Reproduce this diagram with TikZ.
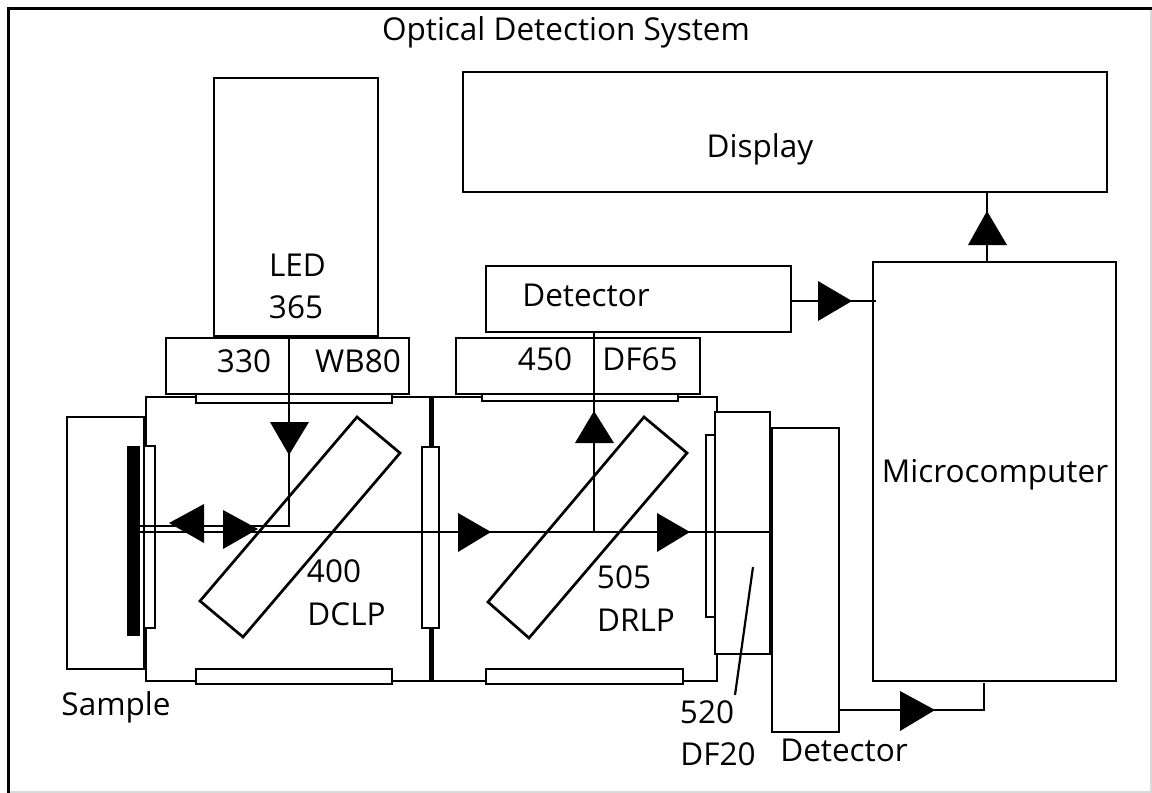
\documentclass[tikz,border=0pt]{standalone}
\usepackage{fontspec}
\setmainfont{Open Sans}
\newcommand{\bx}[6][box]{%
  \pgfmathsetmacro{\bxcx}{(#3+#5)/2}\pgfmathsetmacro{\bxcy}{(#4+#6)/2}%
  \pgfmathsetmacro{\bxw}{#5-#3}\pgfmathsetmacro{\bxh}{#6-#4}%
  \node[#1,minimum width=\bxw pt,minimum height=\bxh pt] (#2) at (\bxcx,\bxcy) {};}
\tikzset{
  box/.style={draw=black,fill=white,line width=2.7pt,inner sep=0pt,outer sep=0pt,rectangle},
  solidbar/.style={draw=black,fill=black,line width=0pt,inner sep=0pt,outer sep=0pt,rectangle},
  beam/.style={draw=black,line width=2.7pt},
  mirror/.style={draw=black,line width=2.7pt,line join=miter},
  head/.style={fill=black,draw=none},
  lab/.style={font=\fontsize{31.5}{33}\selectfont,inner sep=0pt,text=black,anchor=base},
}
\begin{document}
\begin{tikzpicture}[x=1pt,y=-1pt]
\useasboundingbox (0,0) rectangle (1152,793);
\fill[white] (0,0) rectangle (1152,793);
% frame
\draw[black!15,line width=1.5pt] (9,792) -- (1151,792) -- (1151,8);
\draw[black,line width=3pt] (8.5,793) -- (8.5,8.5) -- (1152,8.5);
% sample and cubes
\bx{sample}{67}{417}{144.5}{669}
\bx{cubeL}{146}{397}{430.5}{681}
\bx{cubeR}{432.5}{397}{717}{681}
% filters
\bx{slitLT}{196}{394}{392}{403}
\bx{slitLB}{196}{669}{392}{684}
\bx{slitRT}{482}{394}{678}{401}
\bx{slitRB}{486}{669}{683}{684}
\bx{midF}{422}{447}{439}{628}
\bx{sampF}{144}{446}{155}{628}
\bx[solidbar]{bar}{127}{446}{139}{635}
\bx{thinF}{706}{435}{716}{617}
\bx{dfbox}{715}{412}{770}{654}
\bx{detR}{772}{428}{839}{732}
% upper boxes
\bx{led}{214}{78}{378}{336}
\bx{fL}{166}{338}{409}{394}
\bx{fR}{456}{338}{700}{394}
\bx{detT}{486}{266}{791}{332}
\bx{disp}{463}{72}{1107}{192}
\bx{micro}{873}{262}{1116}{681}
% mirrors
\draw[mirror] (357,417) -- (400,453) -- (243,637) -- (200,601) -- cycle;
\draw[mirror] (644,417) -- (687,453) -- (529,638) -- (488,602) -- cycle;
% beams
\coordinate (beamS) at (139,532);
\coordinate (retS) at (139,526);
\coordinate (ledO) at (289,526);
\coordinate (upO) at (594,532);
\draw[beam] (beamS) -- (detR.west |- beamS);
\draw[beam] (retS) -- (ledO) -- (ledO |- led.south);
\draw[beam] (upO) -- (upO |- detT.south);
% signals
\coordinate (mOut) at (987,681);
\draw[beam] (micro.north -| mOut) -- (disp.south -| mOut);
\coordinate (dIn) at (876,301);
\draw[beam] (detT.east |- dIn) -- (dIn);
\coordinate (dOut) at (838,710);
\coordinate (mIn) at (984,683);
\draw[beam] (dOut) -- (dOut -| mIn) -- (mIn);
% leader
\coordinate (leadA) at (753,567);
\coordinate (leadB) at (735,695);
\draw[black,line width=2.2pt] (leadA) -- (leadB);
% heads
\fill[head] (270,422) -- (309,422) -- (289,455) -- cycle;
\fill[head] (204,504) -- (204,543) -- (169,523) -- cycle;
\fill[head] (223,510) -- (223,549) -- (258,529) -- cycle;
\fill[head] (458,513) -- (458,552) -- (491,532) -- cycle;
\fill[head] (657,513) -- (657,552) -- (690,532) -- cycle;
\fill[head] (575,443) -- (614,443) -- (594,411) -- cycle;
\fill[head] (818,281) -- (818,321) -- (852,301) -- cycle;
\fill[head] (968,245) -- (1007,245) -- (987,211) -- cycle;
\fill[head] (900,691) -- (900,731) -- (935,710) -- cycle;
% labels
\node[lab] (tTitle) at (566,40) {Optical Detection System};
\node[lab] (tDisp) at (760,157) {Display};
\node[lab] (tDetT) at (586,306) {Detector};
\node[lab] (tLed) at (297.5,276) {LED};
\node[lab] (t365) at (296,318) {365};
\node[lab] (t330) at (244,372) {330};
\node[lab] (tWB) at (358,372) {WB80};
\node[lab] (t450) at (545,370) {450};
\node[lab] (tDF65) at (640,370) {DF65};
\node[lab] (tMicro) at (995,482) {Microcomputer};
\node[lab] (t400) at (334,582) {400};
\node[lab] (tDCLP) at (346.5,625) {DCLP};
\node[lab] (t505) at (624,588) {505};
\node[lab] (tDRLP) at (636,631) {DRLP};
\node[lab] (tSample) at (116,715) {Sample};
\node[lab] (t520) at (707,723) {520};
\node[lab] (tDF20) at (718,765) {DF20};
\node[lab] (tDetB) at (844,761) {Detector};
\end{tikzpicture}
\end{document}
